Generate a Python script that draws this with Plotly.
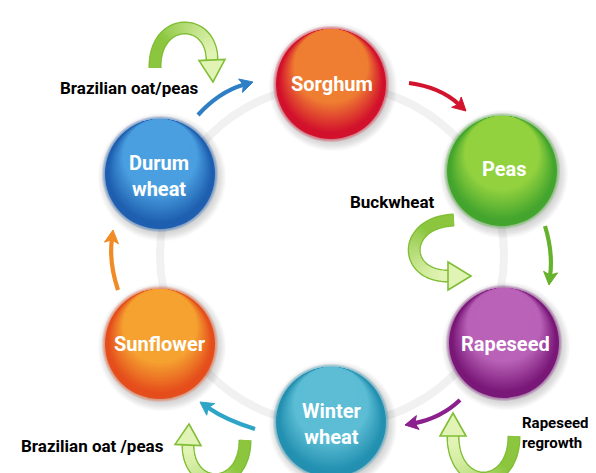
import math
import plotly.graph_objects as go

W, H = 596, 473

# ---- data ----
crops = ["Sorghum", "Peas", "Rapeseed", "Winter<br>wheat", "Sunflower", "Durum<br>wheat"]
cover_crops = ["Brazilian oat/peas", "Buckwheat", "Rapeseed<br>regrowth", "Brazilian oat /peas"]

# ---- layout / style ----
node_xy = [(323, 76), (494, 163), (496, 335), (323, 414), (152, 336), (152, 166)]
R = 55
top_cols = ["#ef7e32", "#93d23f", "#b962b8", "#5cbdd5", "#f5a231", "#4a9fe0"]
bot_cols = ["#d2112c", "#44a52e", "#7a1878", "#2390b1", "#e54e1c", "#1e5fb0"]
arrow_cols = ["#d2132e", "#66b22c", "#8a1f8d", "#2ea5c6", "#f08b25", "#2f7fc6"]
FONT = "Roboto, sans-serif"


def rgb(h):
    h = h.lstrip("#")
    return tuple(int(h[i:i + 2], 16) for i in (0, 2, 4))


def mix(a, b, t):
    a, b = rgb(a), rgb(b)
    return "rgb(%d,%d,%d)" % tuple(round(a[i] + (b[i] - a[i]) * t) for i in range(3))


def rgba(h, a):
    r, g, b = rgb(h)
    return f"rgba({r},{g},{b},{a})"


shapes = []

# faint ring
shapes.append(dict(type="circle", x0=324 - 172, x1=324 + 172, y0=247 - 170, y1=247 + 170,
                   line=dict(color="#f1f1f1", width=8), layer="below"))


def sphere(cx, cy, r, top, bot):
    for k in range(9, 0, -1):
        rr = r + k
        shapes.append(dict(type="circle", x0=cx + 2 - rr, x1=cx + 2 + rr, y0=cy + 3 - rr, y1=cy + 3 + rr,
                           fillcolor="rgba(120,120,120,0.04)", line_width=0))
    for k in (3, 2, 1):
        rr = r + k
        shapes.append(dict(type="circle", x0=cx - rr, x1=cx + rr, y0=cy - rr, y1=cy + rr,
                           fillcolor=rgba(bot, 0.18), line_width=0))
    N = 34
    for i in range(N):
        t = i / (N - 1)
        rr = r * (1 - 0.5 * t)
        yy = cy - r * 0.5 * t
        tt = min(1.0, max(0.0, (t - 0.1) / 0.55))
        col = mix(bot, top, tt)
        shapes.append(dict(type="circle", x0=cx - rr, x1=cx + rr, y0=yy - rr, y1=yy + rr,
                           fillcolor=col, line_width=0))


def qarrow(p0, c, p1, color, w=4.2, hl=13, hw=7):
    dx, dy = p1[0] - c[0], p1[1] - c[1]
    L = math.hypot(dx, dy)
    ux, uy = dx / L, dy / L
    px, py = -uy, ux
    bx, by = p1[0] - ux * hl, p1[1] - uy * hl
    ex, ey = p1[0] - ux * (hl - 3), p1[1] - uy * (hl - 3)
    shapes.append(dict(type="path", path=f"M {p0[0]},{p0[1]} Q {c[0]},{c[1]} {ex:.1f},{ey:.1f}",
                       line=dict(color=color, width=w)))
    shapes.append(dict(type="path",
                       path=f"M {p1[0]},{p1[1]} L {bx + px * hw:.1f},{by + py * hw:.1f} "
                            f"L {bx + ux * 3:.1f},{by + uy * 3:.1f} L {bx - px * hw:.1f},{by - py * hw:.1f} Z",
                       fillcolor=color, line=dict(color=color, width=1)))


def cubic(p0, c1, c2, p1, t):
    mt = 1 - t
    return (mt ** 3 * p0[0] + 3 * mt * mt * t * c1[0] + 3 * mt * t * t * c2[0] + t ** 3 * p1[0],
            mt ** 3 * p0[1] + 3 * mt * mt * t * c1[1] + 3 * mt * t * t * c2[1] + t ** 3 * p1[1])


def uarrow(p0, c1, c2, p1, tip, hw=14, w=10):
    dark, mid, pale = "#80be36", "#8cc63f", "#e2f4b5"
    n = 40
    pts = [cubic(p0, c1, c2, p1, i / n) for i in range(n + 1)]
    poly = "M " + " L ".join(f"{x:.1f},{y:.1f}" for x, y in pts)
    shapes.append(dict(type="path", path=poly, line=dict(color=dark, width=w + 3)))
    for i in range(n - 1):
        seg = pts[i:i + 3]
        t = i / (n - 2)
        col = mix(mid, pale, max(0, (t - 0.25) / 0.75) ** 0.8)
        shapes.append(dict(type="path", path="M " + " L ".join(f"{x:.1f},{y:.1f}" for x, y in seg),
                           line=dict(color=col, width=w)))
    dx, dy = tip[0] - p1[0], tip[1] - p1[1]
    L = math.hypot(dx, dy)
    px, py = -dy / L, dx / L
    shapes.append(dict(type="path",
                       path=f"M {tip[0]},{tip[1]} L {p1[0] + px * hw:.1f},{p1[1] + py * hw:.1f} "
                            f"L {p1[0] - px * hw:.1f},{p1[1] - py * hw:.1f} Z",
                       fillcolor=pale, line=dict(color=dark, width=1.6)))


for (cx, cy), tc, bc in zip(node_xy, top_cols, bot_cols):
    sphere(cx, cy, R, tc, bc)

# rotation arrows
qarrow((401, 75), (432, 79), (458, 103), arrow_cols[0])
qarrow((537, 218), (545, 244), (541, 277), arrow_cols[1])
qarrow((452, 392), (433, 410), (397, 417), arrow_cols[2])
qarrow((247, 421), (218, 412), (192, 394), arrow_cols[3])
qarrow((110, 282), (101, 255), (105, 222), arrow_cols[4])
qarrow((190, 107), (211, 84), (245, 74), arrow_cols[5])

# cover-crop U-turn arrows
uarrow((147, 60), (146, 8), (204, 8), (204, 52), (205, 74), hw=13)
uarrow((446, 212), (394, 214), (394, 268), (440, 268), (463, 268), hw=14)
uarrow((237, 432), (237, 484), (180, 484), (180, 437), (181, 416), hw=13)
uarrow((506, 428), (506, 484), (445, 484), (445, 428), (445, 405), hw=13)

annotations = []
label_xy = [(324, 76), (496, 161), (497, 336), (324, 416), (152, 336), (151, 168)]
for txt, (x, y) in zip(crops, label_xy):
    annotations.append(dict(x=x, y=y, text=txt, showarrow=False, xanchor="center", yanchor="middle",
                            font=dict(family=FONT, size=20, color="white", weight="bold")))

cover_pos = [(121, 80, "center", 17), (384, 194, "center", 17), (512, 425, "left", 15), (84, 438, "center", 17)]
for txt, (x, y, anc, sz) in zip(cover_crops, cover_pos):
    annotations.append(dict(x=x, y=y, text=txt, showarrow=False, xanchor=anc, yanchor="middle", align="left",
                            font=dict(family=FONT, size=sz, color="black", weight="bold")))

fig = go.Figure()
fig.add_trace(go.Scatter(x=[0, W], y=[0, H], mode="markers", marker=dict(opacity=0), hoverinfo="skip",
                         showlegend=False))
fig.update_layout(
    width=W, height=H, autosize=False,
    margin=dict(l=0, r=0, t=0, b=0),
    paper_bgcolor="white", plot_bgcolor="white",
    xaxis=dict(range=[0, W], visible=False, fixedrange=True),
    yaxis=dict(range=[H, 0], visible=False, fixedrange=True),
    shapes=shapes, annotations=annotations, showlegend=False,
)
fig.write_html("out.html")
